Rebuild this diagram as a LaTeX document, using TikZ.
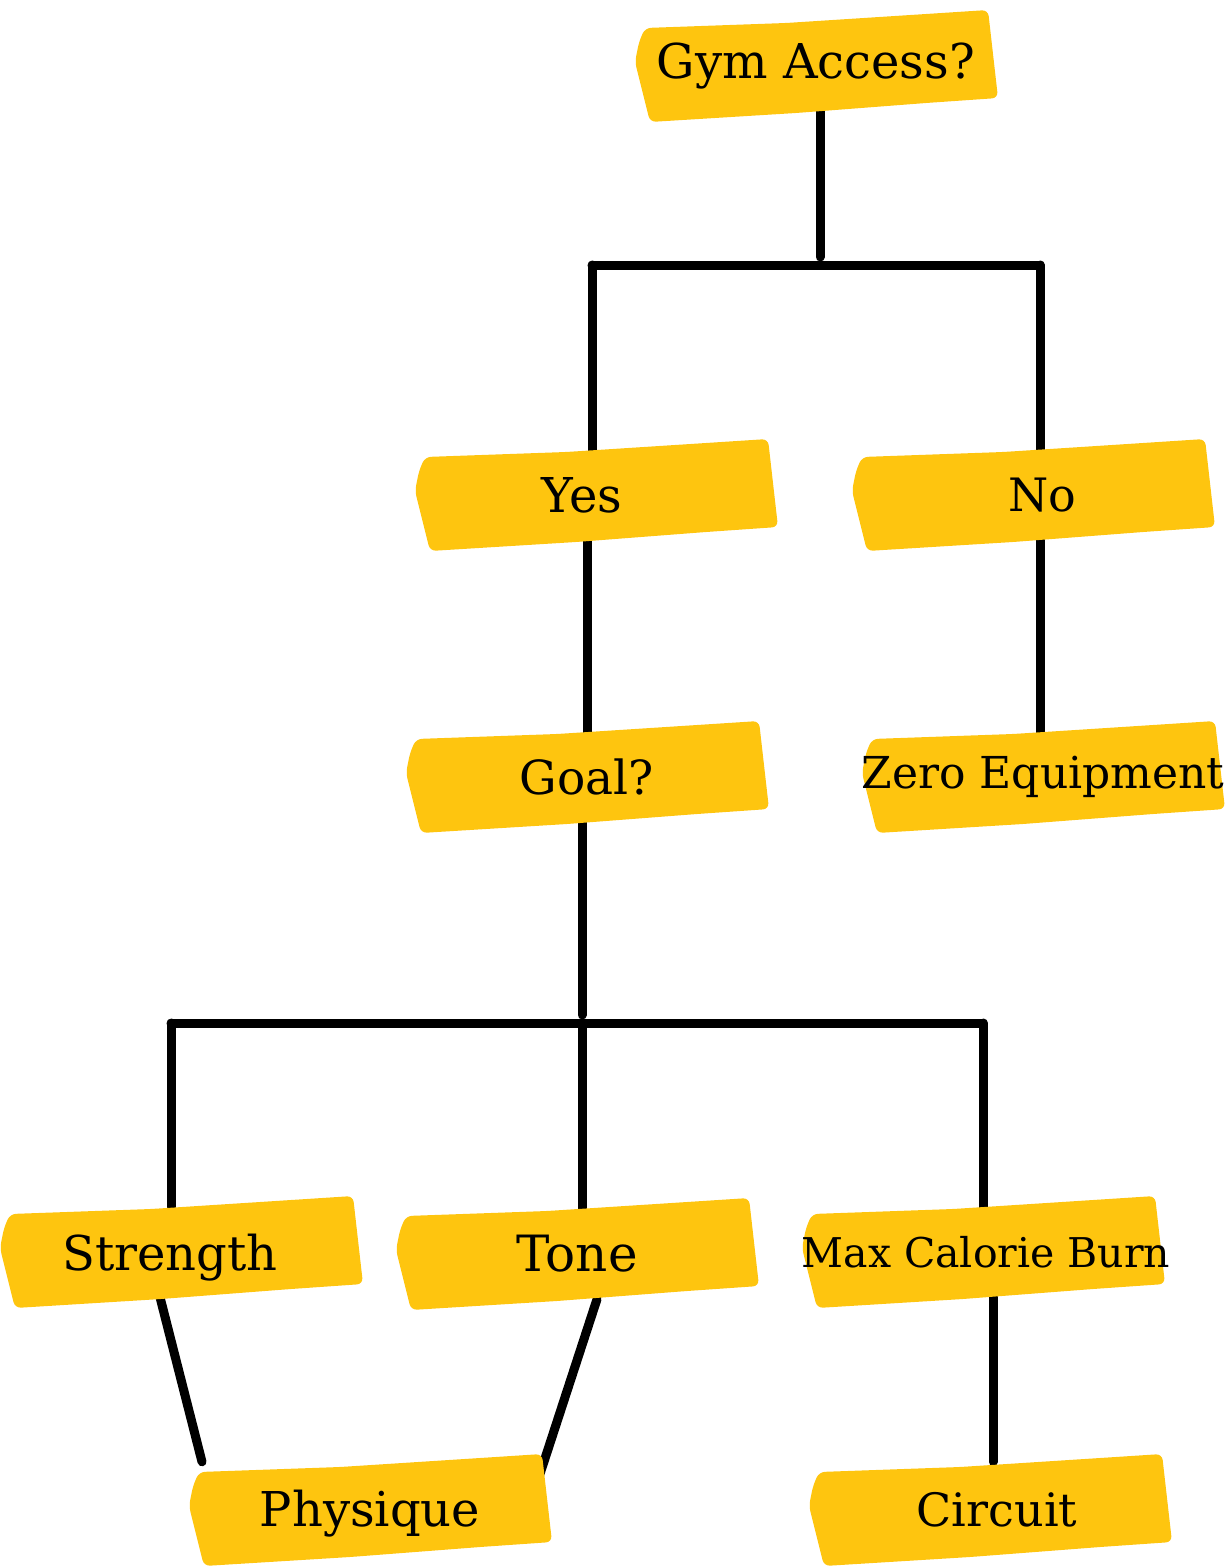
\documentclass[tikz,border=0pt]{standalone}
\usepackage{fontspec}
\setmainfont{DejaVu Serif}
\usepackage{tikz}
\usetikzlibrary{calc}
\definecolor{brushfill}{HTML}{FEC50F}
\pgfdeclarelayer{background}
\pgfdeclarelayer{mid}
\pgfsetlayers{background,mid,main}

\begin{document}
\begin{tikzpicture}[x=1pt,y=-1pt,
  box/.style={minimum width=340pt,minimum height=90pt,inner sep=0pt,font=\fontsize{47}{50}\selectfont},
  fsize/.style={font=\fontsize{#1}{#1}\selectfont},
  link/.style={draw=black,line width=9pt,line cap=round}]
\useasboundingbox (0,0) rectangle (1229,1566);
\node[box,fsize=48] (gym) at (816,66) {Gym Access?};
\node[box,fsize=48] (yes) at (596,495) {\hspace*{-28pt}Yes};
\node[box,fsize=46] (no) at (1033,495) {\hspace*{18pt}No};
\node[box] (goal) at (587,777) {Goal?};
\node[box,fsize=44] (zero) at (1043,777) {Zero Equipment};
\node[box,fsize=48] (str) at (181,1252) {\hspace*{-22pt}\raisebox{-6pt}[\height][\depth]{Strength}};
\node[box,fsize=50] (tone) at (577,1254) {Tone};
\node[box,fsize=41] (max) at (983,1252) {\hspace*{6pt}Max Calorie Burn};
\node[box,fsize=48] (phy) at (370,1510) {\raisebox{-4pt}[\height][\depth]{Physique}};
\node[box,fsize=46] (cir) at (990,1510) {\hspace*{14pt}Circuit};
\coordinate (gsplit) at (820,265);
\coordinate (ysplit) at (592,265);
\coordinate (nsplit) at (1040,265);
\coordinate (msplit) at (582,1023);
\coordinate (lsplit) at (171,1023);
\coordinate (rsplit) at (983,1023);
\begin{pgfonlayer}{background}
\draw[link] (gym.south -| gsplit) -- ([yshift=8pt]gsplit);
\draw[link] (ysplit) -- (nsplit);
\draw[link] (ysplit) -- (yes.north -| ysplit);
\draw[link] (nsplit) -- (no.north -| nsplit);
\draw[link] (yes.south -| goal) -- (goal.north);
\draw[link] (no.south -| nsplit) -- (zero.north -| nsplit);
\draw[link] (goal.south -| msplit) -- ([yshift=8pt]msplit);
\draw[link] (lsplit) -- (rsplit);
\draw[link] (lsplit) -- (str.north -| lsplit);
\draw[link] (msplit) -- (tone.north -| msplit);
\draw[link] (rsplit) -- (max.north -| rsplit);
\draw[link] ([xshift=-21pt]str.south) -- ([xshift=-168pt,yshift=3pt]phy.north);
\draw[link] ([xshift=20pt]tone.south) -- ([xshift=170pt,yshift=-9pt]phy.north);
\draw[link] ([xshift=10pt]max.south) -- ([xshift=3pt,yshift=3pt]cir.north);
\end{pgfonlayer}
\begin{pgfonlayer}{mid}
\foreach \n in {gym,yes,no,goal,zero,str,tone,max,phy,cir}
  \fill[brushfill,rounded corners=6pt] ([shift={(-171,-38)}]\n.center) -- ([shift={(-30,-43)}]\n.center)
    -- ([shift={(110,-52)}]\n.center) -- ([shift={(172,-56)}]\n.center) -- ([shift={(182,32)}]\n.center)
    -- ([shift={(110,37)}]\n.center) -- ([shift={(-20,47)}]\n.center) -- ([shift={(-166,56)}]\n.center)
    -- ([shift={(-181,-4)}]\n.center) -- ([shift={(-177,-24)}]\n.center) -- cycle;
\end{pgfonlayer}
\end{tikzpicture}
\end{document}
